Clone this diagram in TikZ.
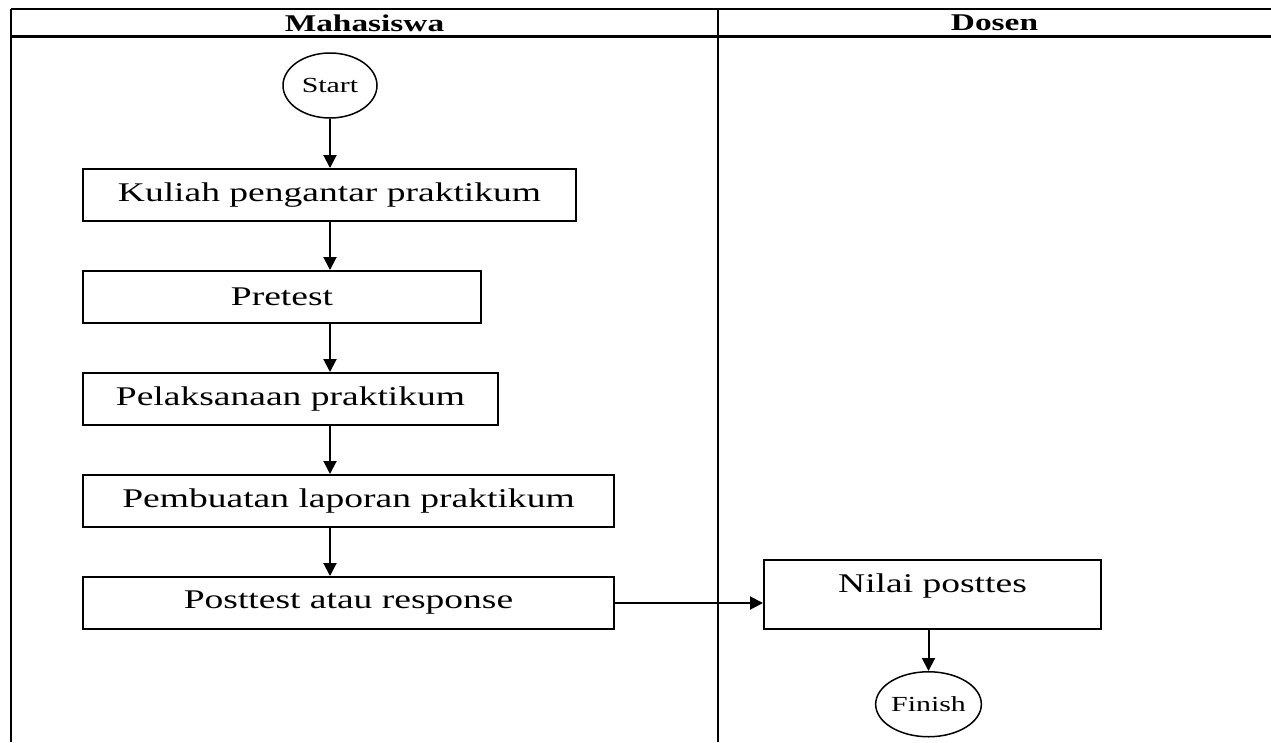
\documentclass[tikz,border=0pt]{standalone}
\usepackage{fontspec}
\setmainfont{Liberation Serif}[FakeStretch=1.39]
\usepackage{tikz}
\usetikzlibrary{shapes,arrows.meta,positioning}
\tikzstyle{block} = [rectangle, draw, line width=2pt, inner sep=0pt,
    minimum height=52pt, font=\fontsize{27}{30}\selectfont]
\tikzstyle{terminal} = [ellipse, draw, line width=1.5pt, inner sep=0pt,
    minimum width=94pt, minimum height=65pt, font=\fontsize{21.5}{24}\selectfont]
\tikzstyle{lane} = [font=\bfseries\fontsize{24}{26}\selectfont, inner sep=0pt]
\tikzstyle{frame} = [line width=2pt]
\tikzstyle{flow} = [line width=2pt, -{Triangle[length=13pt,width=13pt]}]

\begin{document}
\begin{tikzpicture}[thick, x=1pt, y=1pt]
	\useasboundingbox (0,0) rectangle (1271,-742);
	\draw [frame] (11,-9) -- (1271,-9);
	\draw [frame, line width=2.5pt] (11,-36.5) -- (1271,-36.5);
	\draw [frame] (11,-9) -- (11,-742);
	\draw [frame] (718,-9) -- (718,-742);
	\node [lane] (mhs) at (364.5,-23) {Mahasiswa};
	\node [lane] (dsn) at (994.5,-23) {Dosen};

	\node [terminal] (start) at (330,-85.5) {Start};
	\node [block, minimum width=493pt, anchor=north west] (kuliah) at (82,-168) {Kuliah pengantar praktikum};
	\node [block, minimum width=398pt, below=48pt of kuliah.south west, anchor=north west] (pretest) {Pretest};
	\node [block, minimum width=415pt, below=48pt of pretest.south west, anchor=north west] (pelaksanaan) {Pelaksanaan praktikum};
	\node [block, minimum width=531pt, below=48pt of pelaksanaan.south west, anchor=north west] (laporan) {Pembuatan laporan praktikum};
	\node [block, minimum width=531pt, below=48pt of laporan.south west, anchor=north west] (posttest) {Posttest atau response};
	\node [block, minimum width=337pt, minimum height=69pt, text depth=22pt,
	       right=148pt of posttest.south east, anchor=south west] (nilai) {Nilai posttes};
	\node [terminal, below=41pt of nilai.south, xshift=-4pt] (finish) {Finish};

        \draw [flow] (start) -- (start |- kuliah.north);
        \draw [flow] (start |- kuliah.south) -- (start |- pretest.north);
        \draw [flow] (start |- pretest.south) -- (start |- pelaksanaan.north);
        \draw [flow] (start |- pelaksanaan.south) -- (start |- laporan.north);
        \draw [flow] (start |- laporan.south) -- (start |- posttest.north);
        \draw [flow] (posttest.east) -- (posttest.east -| nilai.west);
        \draw [flow] (finish |- nilai.south) -- (finish);
\end{tikzpicture}
\end{document}
